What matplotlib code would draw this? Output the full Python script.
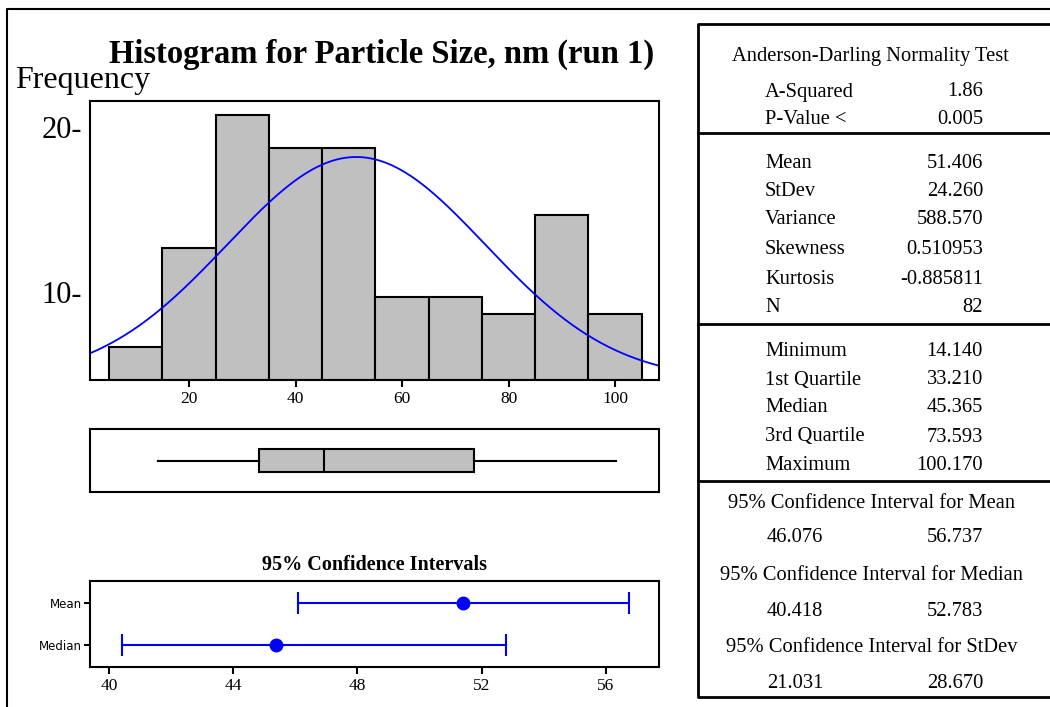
import numpy as np
import matplotlib.pyplot as plt
from matplotlib.lines import Line2D

# histogram of particle size, 10 nm bins
bin_centers = [10, 20, 30, 40, 50, 60, 70, 80, 90, 100]
counts = [2, 8, 16, 14, 14, 5, 5, 4, 10, 4]
bin_width = 10

mean, stdev, n_obs = 51.406, 24.260, 82
q_min, q1, median, q3, q_max = 14.140, 33.210, 45.365, 73.593, 100.170

ci_names = ['Mean', 'Median']
ci_centers = [51.406, 45.365]
ci_low = [46.076, 40.418]
ci_high = [56.737, 52.783]

# frequency axis text labels (old minitab style "20-"), sit above their count
freq_ticks = [10, 20]
freq_shift = 4.7

hist_xticks = [20, 40, 60, 80, 100]
ci_xticks = [40, 44, 48, 52, 56]

ad_rows = [('A-Squared', '1.86'), ('P-Value <', '0.005')]
moment_rows = [('Mean', '51.406'), ('StDev', '24.260'), ('Variance', '588.570'),
               ('Skewness', '0.510953'), ('Kurtosis', '-0.885811'), ('N', '82')]
quant_rows = [('Minimum', '14.140'), ('1st Quartile', '33.210'), ('Median', '45.365'),
              ('3rd Quartile', '73.593'), ('Maximum', '100.170')]
ci_rows = [('95% Confidence Interval for Mean', '46.076', '56.737'),
           ('95% Confidence Interval for Median', '40.418', '52.783'),
           ('95% Confidence Interval for StDev', '21.031', '28.670')]

W, H = 1050, 707
serif = 'Liberation Serif'
plt.rcParams['font.family'] = serif

fig = plt.figure(figsize=(W / 100, H / 100), dpi=100)

def px_axes(left, top, right, bottom):
    return fig.add_axes([left / W, 1 - bottom / H, (right - left) / W, (bottom - top) / H])

# background layer in pixel units: frame, title, table
bg = fig.add_axes([0, 0, 1, 1])
bg.set_xlim(0, W)
bg.set_ylim(H, 0)
bg.axis('off')
bg.add_line(Line2D([7, 7, W], [H, 9, 9], color='black', lw=1.5))

bg.text(382, 63, 'Histogram for Particle Size, nm (run 1)', ha='center', va='baseline',
        fontsize=23.5, fontweight='bold')
bg.text(15, 88, 'Frequency', ha='left', va='baseline', fontsize=23)

# summary table
tl, tr, tt, tb = 698, W + 5, 24, 697
bg.add_line(Line2D([tr, tl, tl, tr], [tt, tt, tb, tb], color='black', lw=2))
for y in [133, 324, 481]:
    bg.add_line(Line2D([tl, tr], [y, y], color='black', lw=2))

fs = 14.8
lab_x, val_x = 765, 983
bg.text(870, 56, 'Anderson-Darling Normality Test', ha='center', va='center', fontsize=fs)
for (lab, val), y in zip(ad_rows, [92, 119]):
    bg.text(lab_x, y, lab, ha='left', va='center', fontsize=fs)
    bg.text(val_x, y, val, ha='right', va='center', fontsize=fs)
for (lab, val), y in zip(moment_rows, [164, 192, 220, 249, 279, 307]):
    bg.text(lab_x, y, lab, ha='left', va='center', fontsize=fs)
    bg.text(val_x, y, val, ha='right', va='center', fontsize=fs)
for (lab, val), y in zip(quant_rows, [351, 380, 408, 437, 466]):
    bg.text(lab_x, y, lab, ha='left', va='center', fontsize=fs)
    bg.text(val_x, y, val, ha='right', va='center', fontsize=fs)
for (head, lo, hi), y in zip(ci_rows, [503, 576, 648]):
    bg.text(872, y, head, ha='center', va='center', fontsize=fs)
    bg.text(767, y + 35, lo, ha='left', va='center', fontsize=fs)
    bg.text(val_x, y + 35, hi, ha='right', va='center', fontsize=fs)

# histogram with fitted normal curve
ax = px_axes(90, 101, 659, 380)
ax.bar(bin_centers, counts, width=bin_width, color='#c0c0c0', edgecolor='black', linewidth=1.5)
ax.set_xlim(1.41, 108.26)
ax.set_ylim(0, 16.87)
xs = np.linspace(1.41, 108.26, 400)
curve = n_obs * bin_width * np.exp(-0.5 * ((xs - mean) / stdev) ** 2) / (stdev * np.sqrt(2 * np.pi))
ax.plot(xs, curve, color='blue', lw=1.3)
ax.set_xticks(hist_xticks)
ax.set_xticklabels([str(t) for t in hist_xticks], fontsize=12.5)
ax.set_yticks([t - freq_shift for t in freq_ticks])
ax.set_yticklabels([f'{t}-' for t in freq_ticks], fontsize=22)
ax.tick_params(axis='y', length=0, pad=6)
ax.tick_params(axis='x', length=5, width=1.5, pad=3)
for s in ax.spines.values():
    s.set_linewidth(1.5)

# boxplot from the quartile summary
bx = px_axes(90, 429, 659, 492)
stats = [dict(med=median, q1=q1, q3=q3, whislo=q_min, whishi=q_max, fliers=[])]
bx.bxp(stats, vert=False, widths=0.38, patch_artist=True, showcaps=False,
       boxprops=dict(facecolor='#c0c0c0', edgecolor='black', linewidth=1.5),
       medianprops=dict(color='black', linewidth=1.5),
       whiskerprops=dict(color='black', linewidth=1.5))
bx.set_xlim(1.41, 108.26)
bx.set_ylim(0.5, 1.5)
bx.set_xticks([])
bx.set_yticks([])
for s in bx.spines.values():
    s.set_linewidth(1.5)

# confidence intervals for mean and median
cx = px_axes(90, 581, 659, 667)
ypos = np.arange(len(ci_names))
xerr = [np.array(ci_centers) - np.array(ci_low), np.array(ci_high) - np.array(ci_centers)]
cx.errorbar(ci_centers, ypos, xerr=xerr, fmt='o', color='blue', ms=9, elinewidth=1.5,
            capsize=8, capthick=1.5)
cx.set_ylim(1.52, -0.52)
cx.set_xlim(39.39, 57.71)
cx.set_yticks(ypos)
cx.set_yticklabels(ci_names, fontsize=8.5, family='DejaVu Sans')
cx.set_xticks(ci_xticks)
cx.set_xticklabels([str(t) for t in ci_xticks], fontsize=12.5)
cx.tick_params(axis='y', length=4, width=1.5, pad=2)
cx.tick_params(axis='x', length=5, width=1.5, pad=3)
for s in cx.spines.values():
    s.set_linewidth(1.5)
bg.text(374, 565, '95% Confidence Intervals', ha='center', va='center',
        fontsize=14.5, fontweight='bold')

fig.savefig('out.png', dpi=100)
